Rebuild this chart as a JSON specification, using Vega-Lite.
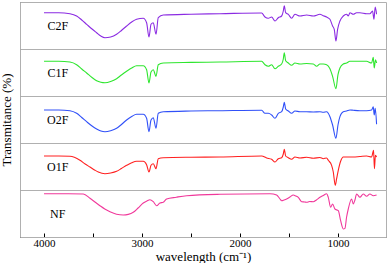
{
"$schema": "https://vega.github.io/schema/vega-lite/v6.json",
"padding": {"left": 0, "top": 1, "right": 2, "bottom": 0},
"background": "white",
"bounds": "flush",
"data": {"values": [
{"s":"C2F","w":4000,"t":36.3},{"s":"C2F","w":3850,"t":36.3},{"s":"C2F","w":3735,"t":35.3},{"s":"C2F","w":3667,"t":33},{"s":"C2F","w":3615,"t":29},{"s":"C2F","w":3565,"t":24.7},{"s":"C2F","w":3510,"t":20},{"s":"C2F","w":3463,"t":16.3},{"s":"C2F","w":3420,"t":13},{"s":"C2F","w":3378,"t":11.3},{"s":"C2F","w":3320,"t":12},{"s":"C2F","w":3259,"t":14.7},{"s":"C2F","w":3210,"t":18.5},{"s":"C2F","w":3157,"t":23},{"s":"C2F","w":3105,"t":27},{"s":"C2F","w":3055,"t":29.7},{"s":"C2F","w":2987,"t":30.7},{"s":"C2F","w":2953,"t":26.3},{"s":"C2F","w":2929,"t":12},{"s":"C2F","w":2908,"t":24.7},{"s":"C2F","w":2885,"t":26.3},{"s":"C2F","w":2857,"t":14.7},{"s":"C2F","w":2834,"t":31.3},{"s":"C2F","w":2783,"t":34},{"s":"C2F","w":2500,"t":34.8},{"s":"C2F","w":2204,"t":35.3},{"s":"C2F","w":1779,"t":36},{"s":"C2F","w":1745,"t":32},{"s":"C2F","w":1711,"t":30.7},{"s":"C2F","w":1677,"t":32},{"s":"C2F","w":1643,"t":28},{"s":"C2F","w":1609,"t":31.3},{"s":"C2F","w":1575,"t":33},{"s":"C2F","w":1558,"t":38},{"s":"C2F","w":1548,"t":43.3},{"s":"C2F","w":1534,"t":36.3},{"s":"C2F","w":1507,"t":34.7},{"s":"C2F","w":1473,"t":30.7},{"s":"C2F","w":1439,"t":34.7},{"s":"C2F","w":1388,"t":33},{"s":"C2F","w":1320,"t":34},{"s":"C2F","w":1252,"t":33},{"s":"C2F","w":1184,"t":34.7},{"s":"C2F","w":1150,"t":33.3},{"s":"C2F","w":1116,"t":32},{"s":"C2F","w":1082,"t":29.7},{"s":"C2F","w":1055,"t":23},{"s":"C2F","w":1038,"t":19.7},{"s":"C2F","w":1021,"t":8},{"s":"C2F","w":1004,"t":19.7},{"s":"C2F","w":980,"t":28},{"s":"C2F","w":946,"t":33},{"s":"C2F","w":912,"t":34.7},{"s":"C2F","w":895,"t":33},{"s":"C2F","w":878,"t":36.3},{"s":"C2F","w":844,"t":34.7},{"s":"C2F","w":810,"t":36.3},{"s":"C2F","w":776,"t":36.3},{"s":"C2F","w":708,"t":35.3},{"s":"C2F","w":674,"t":35.3},{"s":"C2F","w":647,"t":38},{"s":"C2F","w":633,"t":29.7},{"s":"C2F","w":620,"t":42},{"s":"C2F","w":606,"t":34.7},
{"s":"C1F","w":4000,"t":34.7},{"s":"C1F","w":3850,"t":34.7},{"s":"C1F","w":3735,"t":34},{"s":"C1F","w":3667,"t":31.3},{"s":"C1F","w":3615,"t":27},{"s":"C1F","w":3565,"t":23},{"s":"C1F","w":3510,"t":18.5},{"s":"C1F","w":3463,"t":15.3},{"s":"C1F","w":3420,"t":13.8},{"s":"C1F","w":3378,"t":13.3},{"s":"C1F","w":3320,"t":14.5},{"s":"C1F","w":3259,"t":17.3},{"s":"C1F","w":3210,"t":21},{"s":"C1F","w":3157,"t":24.7},{"s":"C1F","w":3105,"t":28},{"s":"C1F","w":3055,"t":30.3},{"s":"C1F","w":2987,"t":30.3},{"s":"C1F","w":2953,"t":26.3},{"s":"C1F","w":2929,"t":13},{"s":"C1F","w":2908,"t":24},{"s":"C1F","w":2885,"t":26.3},{"s":"C1F","w":2857,"t":19.7},{"s":"C1F","w":2834,"t":31.3},{"s":"C1F","w":2783,"t":33},{"s":"C1F","w":2500,"t":33.6},{"s":"C1F","w":2204,"t":34},{"s":"C1F","w":1779,"t":34.7},{"s":"C1F","w":1745,"t":31.3},{"s":"C1F","w":1711,"t":29.7},{"s":"C1F","w":1677,"t":31.3},{"s":"C1F","w":1643,"t":27.3},{"s":"C1F","w":1609,"t":29.7},{"s":"C1F","w":1575,"t":32},{"s":"C1F","w":1558,"t":37},{"s":"C1F","w":1548,"t":43.3},{"s":"C1F","w":1534,"t":35.3},{"s":"C1F","w":1507,"t":33},{"s":"C1F","w":1473,"t":30.7},{"s":"C1F","w":1439,"t":33},{"s":"C1F","w":1388,"t":32},{"s":"C1F","w":1320,"t":32.5},{"s":"C1F","w":1252,"t":32},{"s":"C1F","w":1218,"t":29.7},{"s":"C1F","w":1184,"t":32},{"s":"C1F","w":1150,"t":32},{"s":"C1F","w":1116,"t":31.3},{"s":"C1F","w":1082,"t":27.3},{"s":"C1F","w":1055,"t":19.7},{"s":"C1F","w":1021,"t":7.3},{"s":"C1F","w":1000,"t":21.3},{"s":"C1F","w":980,"t":28},{"s":"C1F","w":946,"t":32},{"s":"C1F","w":912,"t":33},{"s":"C1F","w":878,"t":34.7},{"s":"C1F","w":844,"t":34.7},{"s":"C1F","w":776,"t":34.7},{"s":"C1F","w":708,"t":34.7},{"s":"C1F","w":657,"t":33},{"s":"C1F","w":640,"t":38.7},{"s":"C1F","w":630,"t":28},{"s":"C1F","w":617,"t":36.3},{"s":"C1F","w":606,"t":33},
{"s":"O2F","w":4000,"t":33},{"s":"O2F","w":3850,"t":33},{"s":"O2F","w":3735,"t":32.3},{"s":"O2F","w":3667,"t":29.7},{"s":"O2F","w":3615,"t":25.5},{"s":"O2F","w":3565,"t":21.3},{"s":"O2F","w":3510,"t":17},{"s":"O2F","w":3463,"t":14},{"s":"O2F","w":3420,"t":12},{"s":"O2F","w":3378,"t":11.3},{"s":"O2F","w":3320,"t":12.3},{"s":"O2F","w":3259,"t":14.7},{"s":"O2F","w":3210,"t":18.5},{"s":"O2F","w":3157,"t":23},{"s":"O2F","w":3105,"t":26.5},{"s":"O2F","w":3055,"t":28.7},{"s":"O2F","w":2987,"t":28.7},{"s":"O2F","w":2953,"t":24.7},{"s":"O2F","w":2929,"t":11.3},{"s":"O2F","w":2908,"t":23},{"s":"O2F","w":2885,"t":25.3},{"s":"O2F","w":2857,"t":14.7},{"s":"O2F","w":2834,"t":29.7},{"s":"O2F","w":2783,"t":31.3},{"s":"O2F","w":2500,"t":32},{"s":"O2F","w":2204,"t":32.3},{"s":"O2F","w":1779,"t":32.7},{"s":"O2F","w":1745,"t":29.7},{"s":"O2F","w":1711,"t":29.7},{"s":"O2F","w":1677,"t":28},{"s":"O2F","w":1643,"t":24.7},{"s":"O2F","w":1609,"t":29.7},{"s":"O2F","w":1575,"t":31.3},{"s":"O2F","w":1558,"t":36},{"s":"O2F","w":1548,"t":40.7},{"s":"O2F","w":1534,"t":34},{"s":"O2F","w":1507,"t":32},{"s":"O2F","w":1473,"t":29.7},{"s":"O2F","w":1439,"t":32},{"s":"O2F","w":1388,"t":31.3},{"s":"O2F","w":1320,"t":31.3},{"s":"O2F","w":1252,"t":31},{"s":"O2F","w":1184,"t":31.3},{"s":"O2F","w":1150,"t":30.7},{"s":"O2F","w":1116,"t":31.3},{"s":"O2F","w":1082,"t":26.3},{"s":"O2F","w":1055,"t":18},{"s":"O2F","w":1021,"t":4.7},{"s":"O2F","w":1000,"t":18},{"s":"O2F","w":980,"t":26.3},{"s":"O2F","w":946,"t":31.3},{"s":"O2F","w":912,"t":32},{"s":"O2F","w":878,"t":33},{"s":"O2F","w":844,"t":32.7},{"s":"O2F","w":776,"t":32.3},{"s":"O2F","w":708,"t":32.3},{"s":"O2F","w":657,"t":33},{"s":"O2F","w":640,"t":36.3},{"s":"O2F","w":630,"t":28},{"s":"O2F","w":620,"t":34.7},{"s":"O2F","w":606,"t":18.7},
{"s":"O1F","w":4000,"t":34},{"s":"O1F","w":3850,"t":34},{"s":"O1F","w":3735,"t":33.7},{"s":"O1F","w":3633,"t":29.7},{"s":"O1F","w":3580,"t":26},{"s":"O1F","w":3531,"t":23},{"s":"O1F","w":3480,"t":19.8},{"s":"O1F","w":3446,"t":18},{"s":"O1F","w":3378,"t":16.3},{"s":"O1F","w":3320,"t":17},{"s":"O1F","w":3259,"t":18.7},{"s":"O1F","w":3210,"t":21.5},{"s":"O1F","w":3157,"t":24.7},{"s":"O1F","w":3105,"t":27.3},{"s":"O1F","w":3055,"t":28.7},{"s":"O1F","w":2987,"t":28.7},{"s":"O1F","w":2953,"t":25.3},{"s":"O1F","w":2929,"t":18},{"s":"O1F","w":2908,"t":24.7},{"s":"O1F","w":2885,"t":26.3},{"s":"O1F","w":2857,"t":21.3},{"s":"O1F","w":2834,"t":31.3},{"s":"O1F","w":2783,"t":32.3},{"s":"O1F","w":2500,"t":32.8},{"s":"O1F","w":2204,"t":33},{"s":"O1F","w":1779,"t":34},{"s":"O1F","w":1728,"t":32},{"s":"O1F","w":1677,"t":30.7},{"s":"O1F","w":1643,"t":28},{"s":"O1F","w":1609,"t":31.3},{"s":"O1F","w":1575,"t":32.3},{"s":"O1F","w":1558,"t":36},{"s":"O1F","w":1548,"t":40.7},{"s":"O1F","w":1534,"t":34},{"s":"O1F","w":1507,"t":32.3},{"s":"O1F","w":1473,"t":30.7},{"s":"O1F","w":1439,"t":33},{"s":"O1F","w":1388,"t":32},{"s":"O1F","w":1320,"t":32.7},{"s":"O1F","w":1252,"t":31.7},{"s":"O1F","w":1184,"t":32.5},{"s":"O1F","w":1150,"t":31.3},{"s":"O1F","w":1116,"t":32},{"s":"O1F","w":1099,"t":29.7},{"s":"O1F","w":1065,"t":24.7},{"s":"O1F","w":1048,"t":18},{"s":"O1F","w":1028,"t":4.7},{"s":"O1F","w":1014,"t":11.3},{"s":"O1F","w":997,"t":19.7},{"s":"O1F","w":973,"t":28.7},{"s":"O1F","w":946,"t":33},{"s":"O1F","w":912,"t":33},{"s":"O1F","w":878,"t":33},{"s":"O1F","w":844,"t":33},{"s":"O1F","w":776,"t":33.5},{"s":"O1F","w":708,"t":34},{"s":"O1F","w":657,"t":33},{"s":"O1F","w":637,"t":39.7},{"s":"O1F","w":628,"t":21.3},{"s":"O1F","w":618,"t":34.7},{"s":"O1F","w":606,"t":33},
{"s":"NF","w":4000,"t":43.3},{"s":"NF","w":3750,"t":43.3},{"s":"NF","w":3599,"t":43},{"s":"NF","w":3531,"t":38.7},{"s":"NF","w":3480,"t":35},{"s":"NF","w":3429,"t":31.3},{"s":"NF","w":3380,"t":28},{"s":"NF","w":3327,"t":25.3},{"s":"NF","w":3260,"t":22.8},{"s":"NF","w":3191,"t":22},{"s":"NF","w":3140,"t":22.6},{"s":"NF","w":3089,"t":24.7},{"s":"NF","w":3040,"t":29},{"s":"NF","w":2987,"t":34},{"s":"NF","w":2950,"t":36},{"s":"NF","w":2919,"t":37.3},{"s":"NF","w":2885,"t":35.3},{"s":"NF","w":2851,"t":31.3},{"s":"NF","w":2817,"t":34},{"s":"NF","w":2783,"t":34.7},{"s":"NF","w":2749,"t":38},{"s":"NF","w":2650,"t":39.8},{"s":"NF","w":2545,"t":41.3},{"s":"NF","w":2204,"t":42.7},{"s":"NF","w":1694,"t":43.3},{"s":"NF","w":1626,"t":42},{"s":"NF","w":1592,"t":38},{"s":"NF","w":1575,"t":36.3},{"s":"NF","w":1550,"t":37},{"s":"NF","w":1524,"t":38},{"s":"NF","w":1490,"t":40},{"s":"NF","w":1456,"t":42},{"s":"NF","w":1430,"t":41},{"s":"NF","w":1405,"t":39.7},{"s":"NF","w":1371,"t":35.3},{"s":"NF","w":1340,"t":35},{"s":"NF","w":1320,"t":34.7},{"s":"NF","w":1290,"t":35.5},{"s":"NF","w":1252,"t":35.3},{"s":"NF","w":1220,"t":37},{"s":"NF","w":1184,"t":39.7},{"s":"NF","w":1150,"t":41.5},{"s":"NF","w":1116,"t":43.3},{"s":"NF","w":1099,"t":39.7},{"s":"NF","w":1075,"t":29.7},{"s":"NF","w":1055,"t":33},{"s":"NF","w":1031,"t":28},{"s":"NF","w":997,"t":26.3},{"s":"NF","w":973,"t":16.3},{"s":"NF","w":946,"t":8},{"s":"NF","w":929,"t":8.7},{"s":"NF","w":912,"t":20},{"s":"NF","w":895,"t":28},{"s":"NF","w":861,"t":38},{"s":"NF","w":844,"t":33},{"s":"NF","w":827,"t":37},{"s":"NF","w":810,"t":43},{"s":"NF","w":776,"t":39.7},{"s":"NF","w":742,"t":43},{"s":"NF","w":708,"t":40.7},{"s":"NF","w":674,"t":43},{"s":"NF","w":640,"t":41.3},{"s":"NF","w":606,"t":42}
]},
"facet": {"row": {"field": "s", "type": "nominal", "sort": ["C2F","C1F","O2F","O1F","NF"],
  "header": {"labels": false, "labelPadding": 0, "title": "Transmitance (%)", "titleFont": "Liberation Serif", "titleFontSize": 13, "titleFontWeight": "normal", "titleColor": "black", "titlePadding": -4}}},
"spacing": 0,
"spec": {
  "width": 366, "height": 47,
  "layer": [
    {"mark": {"type": "line", "strokeWidth": 1.1, "strokeJoin": "round", "interpolate": "monotone"},
     "encoding": {
       "x": {"field": "w", "type": "quantitative", "scale": {"domain": [510, 4245], "reverse": true, "nice": false, "zero": false},
         "axis": {"values": [4000,3500,3000,2500,2000,1500,1000], "format": "d", "labelExpr": "datum.value % 1000 === 0 ? datum.label : ''",
           "title": "wavelength (cm⁻¹)", "tickSize": -4, "grid": false, "domainColor": "black", "tickColor": "black",
           "labelFont": "Liberation Serif", "labelFontSize": 11, "labelColor": "black", "labelPadding": 4,
           "titleFont": "Liberation Serif", "titleFontSize": 13, "titleFontWeight": "normal", "titleColor": "black", "titlePadding": 2}},
       "y": {"field": "t", "type": "quantitative", "scale": {"domain": [0, 47], "nice": false, "zero": false},
         "axis": {"labels": false, "ticks": false, "title": null, "grid": false, "domainColor": "black", "minExtent": 0, "maxExtent": 0}},
       "color": {"field": "s", "type": "nominal", "scale": {"domain": ["C2F","C1F","O2F","O1F","NF"], "range": ["#8B2BE2","#2EE62E","#3050F8","#FF2020","#F0399B"]}, "legend": null}
     }},
    {"transform": [{"aggregate": [{"op": "count", "as": "n"}], "groupby": ["s"]}],
     "mark": {"type": "text", "font": "Liberation Serif", "fontSize": 12, "color": "black"},
     "encoding": {
       "x": {"datum": 3860, "type": "quantitative"},
       "y": {"datum": 23.5, "type": "quantitative"},
       "text": {"field": "s", "type": "nominal"}
     }}
  ]
},
"config": {"view": {"stroke": "#b0b0b0"}}
}
